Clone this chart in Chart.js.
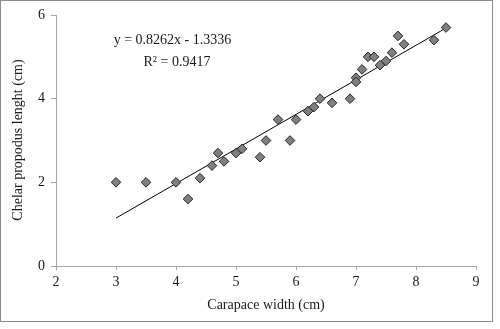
<!DOCTYPE html>
<html>
<head>
<meta charset="utf-8">
<script src="https://cdn.jsdelivr.net/npm/chart.js@4.4.1/dist/chart.umd.min.js"></script>
<style>
  html, body { margin: 0; padding: 0; background: #fff; }
  #c { display: block; }
</style>
</head>
<body>
<canvas id="c" width="500" height="329"></canvas>
<script>
// Carapace width (cm)
const carapaceWidth = [3.0, 3.5, 4.0, 4.2, 4.4, 4.6, 4.7, 4.8, 5.0, 5.1, 5.4, 5.5, 5.7, 5.9, 6.0, 6.2,
                       6.3, 6.4, 6.6, 6.9, 7.0, 7.0, 7.1, 7.2, 7.3, 7.4, 7.5, 7.6, 7.7, 7.8, 8.3, 8.5];
// Chelar propodus length (cm)
const propodusLength = [2.0, 2.0, 2.0, 1.6, 2.1, 2.4, 2.7, 2.5, 2.7, 2.8, 2.6, 3.0, 3.5, 3.0, 3.5, 3.7,
                        3.8, 4.0, 3.9, 4.0, 4.5, 4.4, 4.7, 5.0, 5.0, 4.8, 4.9, 5.1, 5.5, 5.3, 5.4, 5.7];
// Linear trendline: y = 0.8262x - 1.3336, R² = 0.9417
const trendSlope = 0.8262;
const trendIntercept = -1.3336;
const trendRange = [3.0, 8.5];
const equationLines = ['y = 0.8262x - 1.3336', 'R\u00B2 = 0.9417'];
const xTicks = [2, 3, 4, 5, 6, 7, 8, 9];
const yTicks = [0, 2, 4, 6];
const xTitle = 'Carapace width (cm)';
const yTitle = 'Chelar propodus lenght (cm)';

const scatterData = carapaceWidth.map((x, i) => ({ x: x, y: propodusLength[i] }));
const trendData = trendRange.map(x => ({ x: x, y: trendSlope * x + trendIntercept }));

const FONT = '"Liberation Serif", "Times New Roman", serif';
const AXIS_COLOR = '#a6a6a6';

const frame = {
  id: 'frame',
  beforeDraw(chart) {
    const ctx = chart.ctx;
    ctx.save();
    ctx.fillStyle = '#ffffff';
    ctx.fillRect(0, 0, chart.width, chart.height);
    ctx.strokeStyle = '#8c8c8c';
    ctx.lineWidth = 1;
    ctx.strokeRect(0.5, 0.5, 492, 321);
    ctx.restore();
  },
  afterDraw(chart) {
    const ctx = chart.ctx;
    ctx.save();
    ctx.fillStyle = '#1a1a1a';
    ctx.font = '14px ' + FONT;
    ctx.textAlign = 'center';
    ctx.textBaseline = 'middle';
    ctx.fillText(equationLines[0], 172.5, 40);
    ctx.fillText(equationLines[1], 177, 62);
    // y axis title
    ctx.translate(18, 140);
    ctx.rotate(-Math.PI / 2);
    ctx.fillText(yTitle, 0, 0);
    ctx.restore();
  }
};

new Chart(document.getElementById('c'), {
  type: 'scatter',
  data: {
    datasets: [
      {
        type: 'line',
        data: trendData,
        borderColor: '#000000',
        borderWidth: 1,
        pointRadius: 0,
        fill: false,
        order: 2
      },
      {
        type: 'scatter',
        data: scatterData,
        pointStyle: 'rectRot',
        pointRadius: 4.8,
        pointBackgroundColor: '#808080',
        pointBorderColor: '#262626',
        pointBorderWidth: 1,
        order: 1
      }
    ]
  },
  plugins: [frame],
  options: {
    responsive: false,
    animation: false,
    devicePixelRatio: 1,
    layout: { autoPadding: false, padding: { top: 15, right: 24, left: 0, bottom: 0 } },
    plugins: { legend: { display: false }, tooltip: { enabled: false } },
    scales: {
      x: {
        type: 'linear',
        min: xTicks[0],
        max: xTicks[xTicks.length - 1],
        afterFit(s) { s.height = 63; },
        afterBuildTicks(s) { s.ticks = xTicks.map(v => ({ value: v })); },
        grid: { display: true, drawOnChartArea: false, drawTicks: true, tickLength: 4, color: AXIS_COLOR },
        border: { display: true, color: AXIS_COLOR, width: 1 },
        ticks: { color: '#1a1a1a', font: { family: FONT, size: 14 }, padding: 4, maxRotation: 0 },
        title: { display: true, text: xTitle, color: '#1a1a1a', font: { family: FONT, size: 14 }, padding: { top: 0, bottom: 15 } }
      },
      y: {
        type: 'linear',
        min: yTicks[0],
        max: yTicks[yTicks.length - 1],
        afterFit(s) { s.width = 56; },
        afterBuildTicks(s) { s.ticks = yTicks.map(v => ({ value: v })); },
        grid: { display: true, drawOnChartArea: false, drawTicks: true, tickLength: 5, color: AXIS_COLOR },
        border: { display: true, color: AXIS_COLOR, width: 1 },
        ticks: { color: '#1a1a1a', font: { family: FONT, size: 14 }, padding: 6 }
      }
    }
  }
});
</script>
</body>
</html>
